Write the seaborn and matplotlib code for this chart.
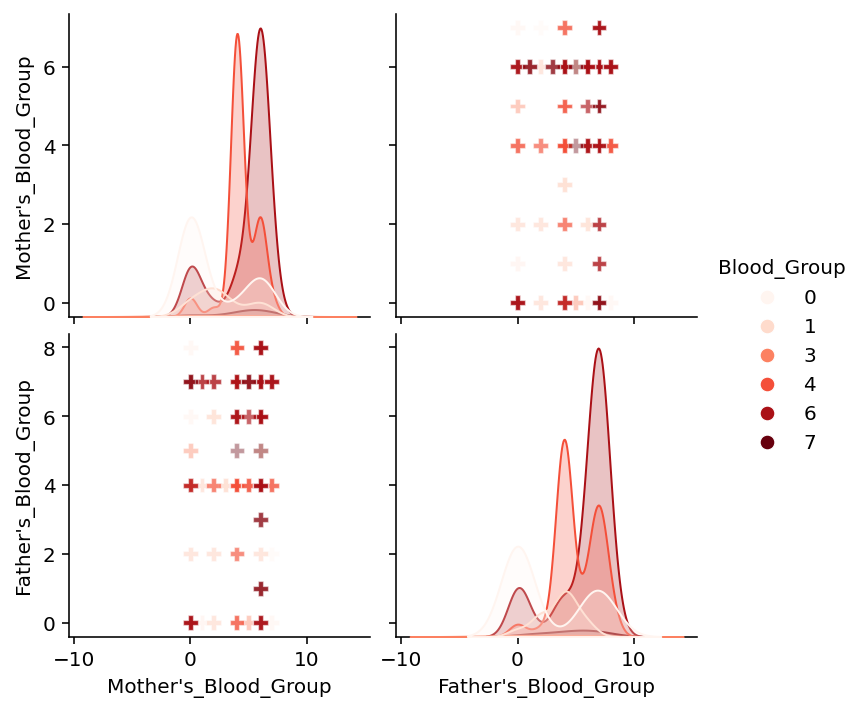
import matplotlib
matplotlib.use("Agg")
import matplotlib.pyplot as plt
import numpy as np
import pandas as pd
import seaborn as sns

# one entry per (mother, father, blood group) cell, with how many rows sit there
# blocks: blood group 0, 1, 3, 4, 6, 7
mother = [0, 6, 4, 6, 5, 6, 2, 0, 0, 1, 7, 7,
          0, 2, 6, 2, 0, 2, 1, 3, 6, 6, 2, 4,
          0, 5,
          4, 4, 4, 6, 6, 5, 7, 4, 0, 4, 2, 4, 6,
          6, 6, 6, 6, 6, 7, 0, 0, 0, 4, 4, 5, 5, 2, 1, 6, 6,
          6, 6, 6, 5, 4, 0]
father = [0, 7, 7, 6, 7, 8, 6, 6, 8, 0, 0, 2,
          2, 2, 2, 0, 4, 4, 4, 4, 4, 5, 6, 6,
          5, 0,
          4, 7, 8, 4, 7, 4, 4, 0, 4, 2, 4, 6, 6,
          7, 6, 8, 4, 0, 7, 0, 7, 4, 6, 7, 7, 6, 7, 7, 3, 1,
          1, 3, 5, 7, 5, 7]
blood = [0] * 12 + [1] * 12 + [3] * 2 + [4] * 13 + [6] * 17 + [7] * 6
count = [38, 6, 4, 4, 2, 3, 2, 2, 2, 3, 2, 1,
         2, 2, 2, 2, 3, 2, 2, 3, 1, 3, 2, 1,
         1, 1,
         28, 19, 5, 7, 8, 4, 3, 3, 4, 2, 2, 3, 5,
         46, 10, 8, 8, 6, 7, 7, 5, 2, 5, 5, 4, 2, 3, 3, 2, 3,
         1, 1, 1, 1, 1, 1]

df = pd.DataFrame({
    "Mother's_Blood_Group": np.repeat(mother, count),
    "Father's_Blood_Group": np.repeat(father, count),
    "Blood_Group": np.repeat(blood, count),
})

g = sns.pairplot(df, hue='Blood_Group', palette='Reds', markers='P',
                 plot_kws={'alpha': 0.4, 's': 55})

# legend shows plain solid dots
for h in g._legend.legend_handles:
    h.set_marker('o')
    h.set_alpha(1)

plt.savefig('out.png', dpi=144, bbox_inches='tight')
